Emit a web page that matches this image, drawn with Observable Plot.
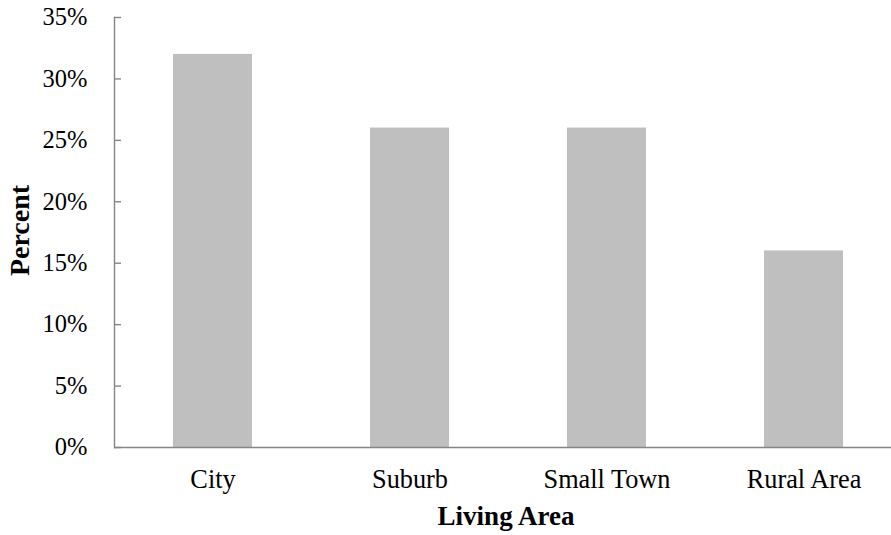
<!DOCTYPE html>
<html><head><meta charset="utf-8">
<script src="https://cdn.jsdelivr.net/npm/d3@7"></script>
<script src="https://cdn.jsdelivr.net/npm/@observablehq/plot@0.6"></script>
<style>body{margin:0;background:#fff}</style>
</head><body><div id="chart"></div>
<script>
const categories = ["City", "Suburb", "Small Town", "Rural Area"];
const percents = [32, 26, 26, 16];
const yTicks = [0, 5, 10, 15, 20, 25, 30, 35];
const yTickLabels = ["0%", "5%", "10%", "15%", "20%", "25%", "30%", "35%"];
const xTitle = "Living Area";
const yTitle = "Percent";

const data = categories.map((c, i) => ({category: c, value: percents[i]}));
const yLabelData = yTicks.map((v, i) => ({value: v, label: yTickLabels[i]}));
const W = 891, H = 535, mL = 114, mR = 0, mT = 17, mB = 88;
const step = 197;
const axisColor = "#868686";
const serif = "'Liberation Serif', 'Times New Roman', serif";

const chart = Plot.plot({
  width: W, height: H,
  marginLeft: mL, marginRight: mR, marginTop: mT, marginBottom: mB,
  style: {fontFamily: serif, fontSize: "25px", color: "#000", background: "#fff", overflow: "visible"},
  x: {type: "band", domain: categories, range: [mL, mL + step * categories.length], paddingInner: 0.6, paddingOuter: 0.3, align: 0.5, label: null, axis: null},
  y: {domain: [0, 35], ticks: yTicks, label: null, axis: null},
  marks: [
    Plot.barY(data, {x: "category", y: "value", fill: "#bfbfbf"}),
    Plot.ruleY([0], {stroke: axisColor, strokeWidth: 1.4}),
    Plot.frame({anchor: "left", stroke: axisColor, strokeWidth: 1.4}),
    Plot.tickY(yTicks, {y: d => d, stroke: axisColor, strokeWidth: 1.4, insetRight: W - mL - mR - 7}),
    Plot.text(yLabelData, {y: "value", text: "label", frameAnchor: "left", textAnchor: "end", lineAnchor: "middle", dx: -27, fontFamily: serif, fontSize: 24.5, fontVariant: "normal", fill: "#000"}),
    Plot.axisX({tickSize: 0, tickPadding: 22, fontFamily: serif, fontSize: 26.3, fill: "#000", label: null}),
    Plot.text([xTitle], {frameAnchor: "bottom", lineAnchor: "bottom", textAnchor: "middle", dy: 77, dx: 3, fontFamily: serif, fontWeight: "bold", fontSize: 27, fill: "#000"}),
    Plot.text([yTitle], {frameAnchor: "left", lineAnchor: "bottom", textAnchor: "middle", rotate: -90, dx: -86, dy: -2, fontFamily: serif, fontWeight: "bold", fontSize: 28, fill: "#000"})
  ]
});
document.getElementById("chart").appendChild(chart);
</script>
</body></html>
